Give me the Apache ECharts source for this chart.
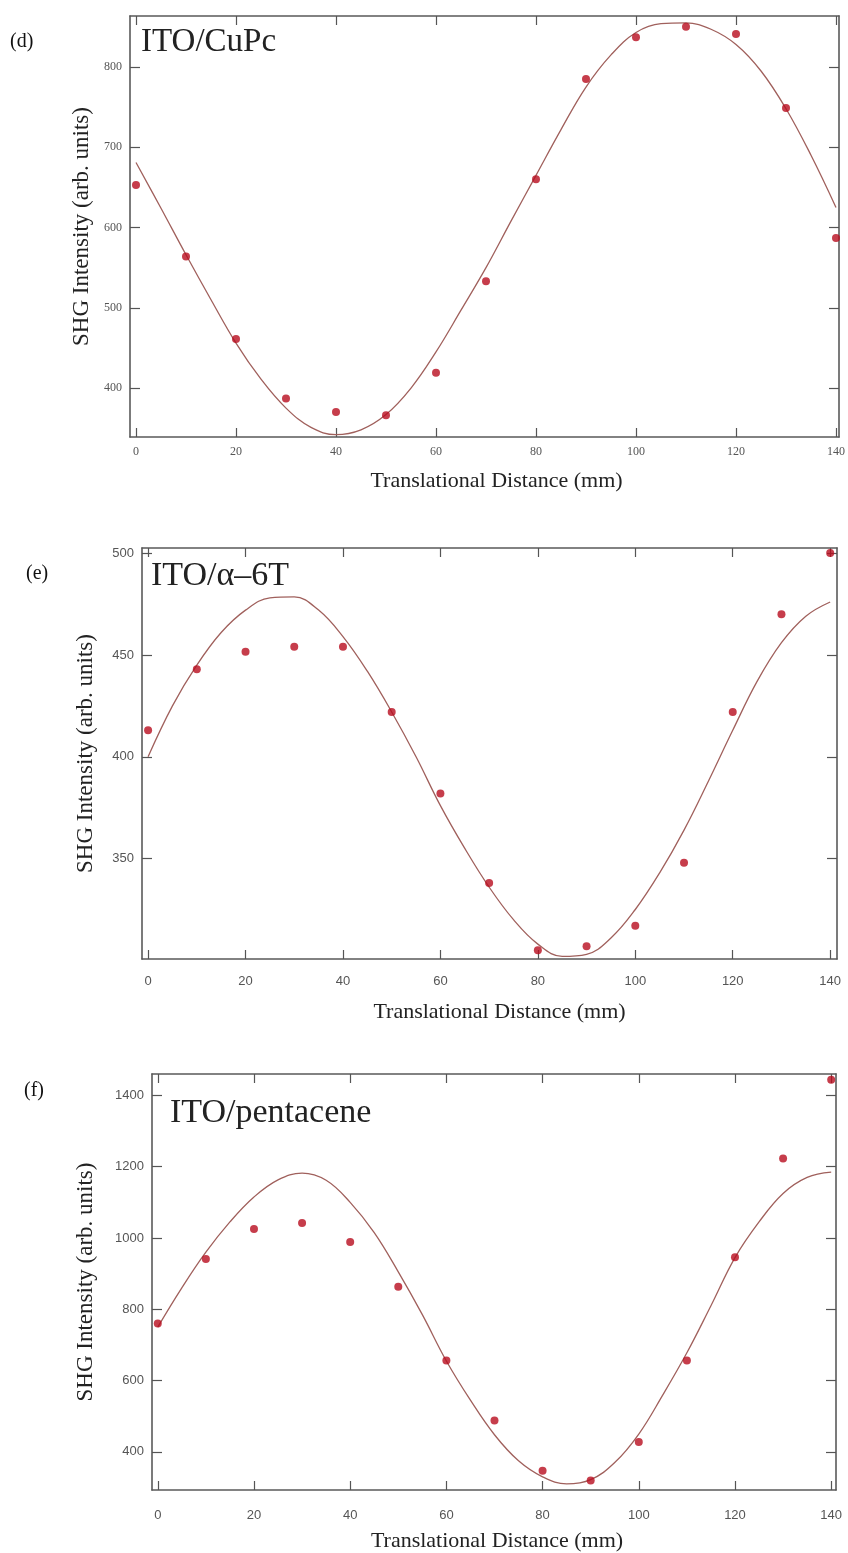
<!DOCTYPE html>
<html>
<head>
<meta charset="utf-8">
<script src="https://cdn.jsdelivr.net/npm/echarts@6/dist/echarts.min.js"></script>
<style>
html,body{margin:0;padding:0;background:#fff;}
#chart{width:848px;height:1553px;}
</style>
</head>
<body>
<div id="chart"></div>
<script>
// ---- data ----
const distances = [0, 10, 20, 30, 40, 50, 60, 70, 80, 90, 100, 110, 120, 130, 140];
const cupcPoints = [653, 564, 461, 387, 370, 366, 419, 533, 660, 785, 837, 850, 841, 749, 587];
const sixTPoints = [413, 443, 451.5, 454, 454, 422, 382, 338, 305, 307, 317, 348, 422, 470, 500];
const pentacenePoints = [760, 941, 1025, 1042, 989, 863, 656, 488, 347, 320, 428, 656, 946, 1223, 1444];

const fitDistances = [0, 5, 10, 15, 20, 25, 30, 35, 40, 45, 50, 55, 60, 65, 70, 75, 80, 85, 90, 95, 100, 105, 110, 115, 120, 125, 130, 135, 140];
const cupcFit = [681, 624, 566, 510, 456, 411, 375, 351, 342, 348, 367, 400, 445, 497, 550, 608, 665, 722, 775, 815, 843, 854, 855, 847, 828, 795, 748, 690, 625];
const sixTFit = [400, 425, 445, 461, 472, 478, 478.5, 472, 459, 442, 422, 400, 376, 355, 336, 320, 308, 302, 303, 311, 325, 343, 364, 388, 413, 437, 456, 469, 476];
const pentaceneFit = [750, 860, 960, 1045, 1115, 1163, 1182, 1162, 1100, 1015, 905, 785, 655, 545, 448, 375, 330, 310, 322, 370, 450, 560, 678, 810, 945, 1045, 1125, 1170, 1185];

const xTickValues = [0, 20, 40, 60, 80, 100, 120, 140];
const cupcYTicks = [400, 500, 600, 700, 800];
const sixTYTicks = [350, 400, 450, 500];
const pentaceneYTicks = [400, 600, 800, 1000, 1200, 1400];

const panelLabels = ['(d)', '(e)', '(f)'];
const panelTitles = ['ITO/CuPc', 'ITO/α–6T', 'ITO/pentacene'];
const xName = 'Translational Distance (mm)';
const yName = 'SHG Intensity (arb. units)';

// ---- layout ----
const panels = [
  { grid: {left: 130, top: 16, width: 711, height: 421}, x: [-1.2, 140.6], y: [339, 863.5], yTicks: cupcYTicks,
    pts: cupcPoints, fit: cupcFit, labelFont: 'Liberation Serif', labelSize: 12, xLabelMargin: 9, xNameGap: 33, yNameGap: 34, xNamePad: 24 },
  { grid: {left: 142, top: 548, width: 695, height: 411}, x: [-1.25, 141.4], y: [300.7, 502.5], yTicks: sixTYTicks,
    pts: sixTPoints, fit: sixTFit, labelFont: 'Liberation Sans', labelSize: 13, xLabelMargin: 16, xNameGap: 42, yNameGap: 45, xNamePad: 20 },
  { grid: {left: 152, top: 1074, width: 684, height: 416}, x: [-1.2, 141], y: [293, 1460], yTicks: pentaceneYTicks,
    pts: pentacenePoints, fit: pentaceneFit, labelFont: 'Liberation Sans', labelSize: 13, xLabelMargin: 19, xNameGap: 40, yNameGap: 55, xNamePad: 6 }
];

const lineCol = '#5a5a5a';
const tickCol = '#555';
const plain = v => String(v);

const grids = [], xAxes = [], yAxes = [], series = [];
panels.forEach((p, i) => {
  grids.push(Object.assign({containLabel: false}, p.grid));
  const commonLine = {show: true, onZero: false, lineStyle: {color: lineCol, width: 1.6}};
  xAxes.push({
    type: 'value', gridIndex: i, position: 'bottom', min: p.x[0], max: p.x[1],
    axisLine: commonLine,
    axisTick: {show: true, inside: true, length: 9, lineStyle: {color: tickCol, width: 1.2}, customValues: xTickValues},
    axisLabel: {show: true, customValues: xTickValues, formatter: plain, margin: p.xLabelMargin, color: '#555', fontFamily: p.labelFont, fontSize: p.labelSize},
    splitLine: {show: false},
    name: xName, nameLocation: 'middle', nameGap: p.xNameGap,
    nameTextStyle: {fontFamily: 'Liberation Serif', fontSize: 22, color: '#222', padding: [0, 0, 0, p.xNamePad]}
  });
  xAxes.push({
    type: 'value', gridIndex: i, position: 'top', min: p.x[0], max: p.x[1],
    axisLine: commonLine,
    axisTick: {show: true, inside: true, length: 9, lineStyle: {color: tickCol, width: 1.2}, customValues: xTickValues},
    axisLabel: {show: false}, splitLine: {show: false}
  });
  yAxes.push({
    type: 'value', gridIndex: i, position: 'left', min: p.y[0], max: p.y[1],
    axisLine: commonLine,
    axisTick: {show: true, inside: true, length: 10, lineStyle: {color: tickCol, width: 1.2}, customValues: p.yTicks},
    axisLabel: {show: true, customValues: p.yTicks, formatter: plain, margin: 8, color: '#555', fontFamily: p.labelFont, fontSize: p.labelSize},
    splitLine: {show: false},
    name: yName, nameLocation: 'middle', nameGap: p.yNameGap, nameRotate: 90,
    nameTextStyle: {fontFamily: 'Liberation Serif', fontSize: 23, color: '#222'}
  });
  yAxes.push({
    type: 'value', gridIndex: i, position: 'right', min: p.y[0], max: p.y[1],
    axisLine: commonLine,
    axisTick: {show: true, inside: true, length: 10, lineStyle: {color: tickCol, width: 1.2}, customValues: p.yTicks},
    axisLabel: {show: false}, splitLine: {show: false}
  });
  series.push({
    type: 'line', xAxisIndex: 2 * i, yAxisIndex: 2 * i, smooth: 0.4, symbol: 'none',
    lineStyle: {color: '#a0605c', width: 1.3}, z: 2, animation: false,
    data: fitDistances.map((d, k) => [d, p.fit[k]])
  });
  series.push({
    type: 'scatter', xAxisIndex: 2 * i, yAxisIndex: 2 * i, symbol: 'circle', symbolSize: 8,
    itemStyle: {color: '#b80d1e'}, z: 3, animation: false,
    data: distances.map((d, k) => [d, p.pts[k]])
  });
});

const graphic = [
  {type: 'text', left: 10, top: 32, style: {text: panelLabels[0], font: '20px "Liberation Serif"', fill: '#111'}},
  {type: 'text', left: 26, top: 564, style: {text: panelLabels[1], font: '20px "Liberation Serif"', fill: '#111'}},
  {type: 'text', left: 24, top: 1081, style: {text: panelLabels[2], font: '20px "Liberation Serif"', fill: '#111'}},
  {type: 'text', left: 141, top: 26, style: {text: panelTitles[0], font: '33px "Liberation Serif"', fill: '#222'}},
  {type: 'text', left: 151, top: 559, style: {text: panelTitles[1], font: '34px "Liberation Serif"', fill: '#222'}},
  {type: 'text', left: 170, top: 1096, style: {text: panelTitles[2], font: '34px "Liberation Serif"', fill: '#222'}}
];

const chart = echarts.init(document.getElementById('chart'), null, {renderer: 'canvas'});
chart.setOption({
  backgroundColor: '#fff',
  animation: false,
  grid: grids, xAxis: xAxes, yAxis: yAxes, series: series, graphic: graphic
});
</script>
</body>
</html>
